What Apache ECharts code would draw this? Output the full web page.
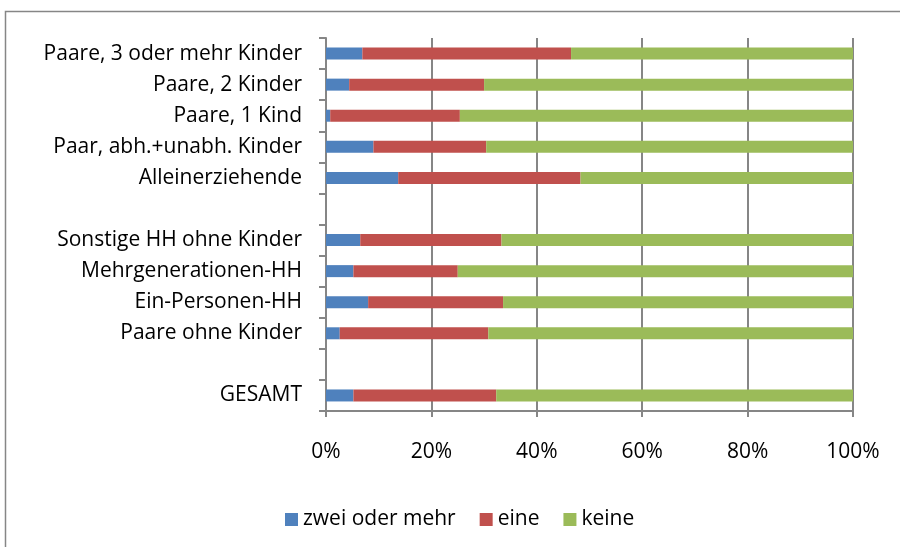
<!DOCTYPE html>
<html>
<head>
<meta charset="utf-8">
<script src="https://cdn.jsdelivr.net/npm/echarts@6/dist/echarts.min.js"></script>
<style>
  html, body { margin: 0; padding: 0; background: #fff; }
  #chart { width: 900px; height: 547px; }
</style>
</head>
<body>
<div id="chart"></div>
<script>
// Kategorien (von oben nach unten), leere Einträge = Lücken
const categories = [
  'Paare, 3 oder mehr Kinder',
  'Paare, 2 Kinder',
  'Paare, 1 Kind',
  'Paar, abh.+unabh. Kinder',
  'Alleinerziehende',
  '',
  'Sonstige HH ohne Kinder',
  'Mehrgenerationen-HH',
  'Ein-Personen-HH',
  'Paare ohne Kinder',
  ' ',
  'GESAMT'
]

// Anteile in %
const zweiOderMehr = [6.9, 4.4, 0.8, 9.0, 13.7, null, 6.5, 5.2, 8.0, 2.6, null, 5.2]
const eine = [39.6, 25.6, 24.6, 21.4, 34.6, null, 26.8, 19.8, 25.6, 28.2, null, 27.1]
const keine = [53.5, 70.0, 74.6, 69.6, 51.7, null, 66.7, 75.0, 66.4, 69.2, null, 67.7]

const xTicks = [0, 20, 40, 60, 80, 100]

const gridColor = '#868686'
const fontFamily = '"Open Sans", "Noto Sans", sans-serif'

const chart = echarts.init(document.getElementById('chart'))

const makeSeries = (name, data, color) => ({
  name: name,
  type: 'bar',
  stack: 'total',
  barWidth: 12,
  itemStyle: { color: color },
  data: data
})

chart.setOption({
  animation: false,
  textStyle: { fontFamily: fontFamily },
  graphic: [{
    type: 'rect',
    shape: { x: 5.5, y: 11.5, width: 1000, height: 1000 },
    style: { fill: 'none', stroke: gridColor, lineWidth: 1.5 }
  }],
  legend: {
    bottom: 12,
    left: 280,
    itemWidth: 13,
    itemHeight: 13,
    itemGap: 24,
    icon: 'rect',
    textStyle: { fontSize: 21, color: '#000', fontFamily: fontFamily },
    data: ['zwei oder mehr', 'eine', 'keine']
  },
  grid: {
    left: 326,
    right: 47,
    top: 38,
    bottom: 136
  },
  xAxis: {
    type: 'value',
    min: xTicks[0],
    max: xTicks[xTicks.length - 1],
    interval: 20,
    axisLine: { show: true, lineStyle: { color: gridColor, width: 2 } },
    axisTick: { show: true, length: 6, lineStyle: { color: gridColor, width: 2 } },
    splitLine: { show: true, lineStyle: { color: gridColor, width: 2 } },
    axisLabel: {
      margin: 31,
      fontSize: 21,
      color: '#000',
      formatter: v => v + '%'
    }
  },
  yAxis: {
    type: 'category',
    inverse: true,
    data: categories,
    axisLine: { show: true, lineStyle: { color: gridColor, width: 2 } },
    axisTick: { show: true, length: 7, inside: false, lineStyle: { color: gridColor, width: 2 } },
    axisLabel: {
      margin: 24,
      fontSize: 21,
      color: '#000'
    }
  },
  series: [
    makeSeries('zwei oder mehr', zweiOderMehr, '#4F81BD'),
    makeSeries('eine', eine, '#C0504D'),
    makeSeries('keine', keine, '#9BBB59')
  ]
})
</script>
</body>
</html>
